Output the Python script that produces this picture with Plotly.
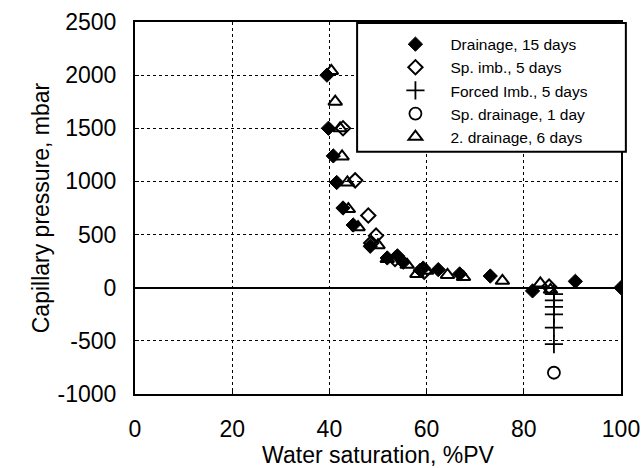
import plotly.graph_objects as go

# Drainage, 15 days
drain_sw = [39.5, 39.8, 40.8, 41.5, 42.8, 44.9, 48.4, 51.9, 54.0, 55.2, 58.7, 59.3, 62.4, 66.8, 73.1, 81.8, 90.6, 100.0]
drain_pc = [2000, 1500, 1240, 990, 750, 590, 390, 280, 300, 240, 165, 185, 170, 130, 110, -30, 60, 0]

# Spontaneous imbibition, 5 days
spimb_sw = [42.8, 45.3, 48.0, 49.6, 48.6, 53.5, 59.5, 85.2]
spimb_pc = [1500, 1010, 680, 490, 420, 270, 150, 10]

# Forced imbibition, 5 days
forced_sw = [86.2, 86.2, 86.2, 86.2, 86.2, 86.2]
forced_pc = [-60, -120, -180, -250, -375, -530]

# Spontaneous drainage, 1 day
spdr_sw = [86.2]
spdr_pc = [-800]

# Secondary drainage, 6 days
dr2_sw = [40.4, 41.2, 42.2, 42.6, 43.7, 43.9, 45.9, 50.0, 51.9, 56.0, 58.0, 60.0, 64.3, 67.6, 75.6, 83.4, 85.5]
dr2_pc = [2040, 1750, 1500, 1235, 990, 740, 570, 400, 270, 215, 130, 160, 120, 100, 65, 40, -20]

x_ticks = [0, 20, 40, 60, 80, 100]
y_ticks = [-1000, -500, 0, 500, 1000, 1500, 2000, 2500]
y_tick_text = ["-1000", "-500", "0", "500", "1000", "1500", "2000", "2500"]

FONT = "Liberation Sans"

fig = go.Figure()
fig.add_trace(go.Scatter(x=drain_sw, y=drain_pc, mode="markers", name="Drainage, 15 days",
                         marker=dict(symbol="diamond", size=11, color="black",
                                     line=dict(color="black", width=1))))
fig.add_trace(go.Scatter(x=spimb_sw, y=spimb_pc, mode="markers", name="Sp. imb., 5 days",
                         marker=dict(symbol="diamond-open", size=11, color="black",
                                     line=dict(color="black", width=2))))
fig.add_trace(go.Scatter(x=forced_sw, y=forced_pc, mode="markers", name="Forced Imb., 5 days",
                         marker=dict(symbol="cross-thin", size=13, color="black",
                                     line=dict(color="black", width=1.8))))
fig.add_trace(go.Scatter(x=spdr_sw, y=spdr_pc, mode="markers", name="Sp. drainage, 1 day",
                         marker=dict(symbol="circle-open", size=12, color="black",
                                     line=dict(color="black", width=1.8))))
fig.add_trace(go.Scatter(x=dr2_sw, y=dr2_pc, mode="markers", name="2. drainage, 6 days",
                         marker=dict(symbol="triangle-up-open", size=12, color="black",
                                     line=dict(color="black", width=2))))

axis_common = dict(
    showline=True, linecolor="black", linewidth=2, mirror=True,
    showgrid=True, gridcolor="black", gridwidth=1.2, griddash="dot",
    ticks="inside", ticklen=4, tickcolor="black", automargin=False,
    tickfont=dict(family=FONT, size=23, color="black"),
)

fig.update_xaxes(range=[0, 100], tickvals=x_ticks, zeroline=False,
                 ticklabelstandoff=13,
                 title=dict(text="Water saturation, %PV", standoff=14,
                            font=dict(family=FONT, size=23, color="black")),
                 **axis_common)
fig.update_yaxes(range=[-1000, 2500], tickvals=y_ticks, ticktext=y_tick_text,
                 zeroline=True, zerolinecolor="black", zerolinewidth=2,
                 ticklabelstandoff=12,
                 title=dict(text="Capillary pressure, mbar", standoff=2,
                            font=dict(family=FONT, size=23, color="black")),
                 **axis_common)

# Legend frame
fig.add_shape(type="rect", xref="paper", yref="paper",
              x0=0.457, x1=1.010, y0=0.651, y1=0.997,
              line=dict(color="black", width=2), fillcolor="white", layer="above")

fig.update_layout(
    width=643, height=468,
    margin=dict(l=135, r=22, t=22, b=74),
    paper_bgcolor="white", plot_bgcolor="white",
    font=dict(family=FONT, color="black"),
    legend=dict(x=0.505, y=0.985, xanchor="left", yanchor="top",
                bgcolor="rgba(0,0,0,0)", borderwidth=0,
                itemwidth=60, font=dict(family=FONT, size=15.5, color="black")),
)

fig.write_html("out.html")
